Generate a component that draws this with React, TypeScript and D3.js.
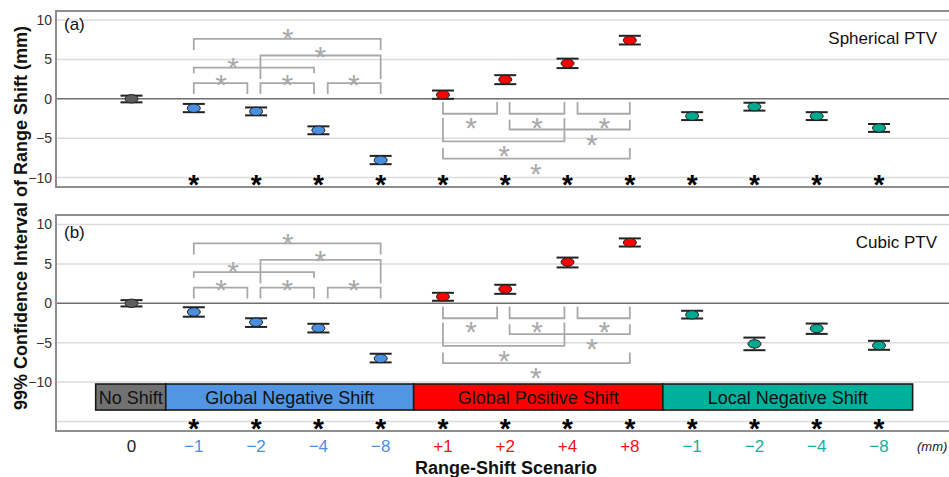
import React from "react";
import * as d3 from "d3";

const categories = ["0", "−1", "−2", "−4", "−8", "+1", "+2", "+4", "+8", "−1", "−2", "−4", "−8"];
const categoryGroup = [0, 1, 1, 1, 1, 2, 2, 2, 2, 3, 3, 3, 3];

const sphericalMean = [0.0, -1.2, -1.6, -4.0, -7.8, 0.5, 2.45, 4.5, 7.43, -2.2, -1.0, -2.2, -3.7];
const sphericalLow = [-0.45, -1.7, -2.1, -4.5, -8.3, 0.0, 1.86, 3.9, 6.9, -2.7, -1.5, -2.7, -4.2];
const sphericalHigh = [0.4, -0.65, -1.1, -3.5, -7.25, 1.05, 3.0, 5.1, 8.0, -1.7, -0.5, -1.7, -3.2];

const cubicMean = [0.0, -1.1, -2.4, -3.15, -7.0, 0.83, 1.8, 5.23, 7.7, -1.46, -5.15, -3.2, -5.36];
const cubicLow = [-0.4, -1.7, -3.0, -3.7, -7.5, 0.32, 1.2, 4.55, 7.2, -1.93, -5.95, -3.88, -5.9];
const cubicHigh = [0.4, -0.5, -1.9, -2.6, -6.4, 1.33, 2.35, 5.8, 8.23, -0.95, -4.35, -2.57, -4.76];

const groupNames = ["No Shift", "Global Negative Shift", "Global Positive Shift", "Local Negative Shift"];
const groupStart = [-0.575, 0.55, 4.53, 8.53];
const groupEnd = [0.55, 4.53, 8.53, 12.54];
const groupFill = ["#717171", "#5195e3", "#ff0000", "#00b09b"];
const markerFill = ["#5e5e5e", "#4a8fe0", "#ff0000", "#00a88f"];
const tickColor = ["#222222", "#4a8fe0", "#f21212", "#16b09b"];

// pairwise comparison brackets (category-index units, value units)
const upFrom = [1, 2.07, 3.15, 1, 2.07, 1];
const upTo = [1.86, 2.93, 4, 2.93, 4, 4];
const upBar = [2.0, 2.0, 2.0, 3.95, 5.5, 7.6];
const upLeg = [0.6, 0.6, 0.6, 3.25, 2.5, 6.2];
const upStarX = [1.44, 2.5, 3.57, 1.63, 3.03, 2.51];
const upStarY = [2.68, 2.68, 2.68, 4.9, 6.3, 8.5];

const downFrom = [5, 6.07, 7.16, 6.07, 5, 5];
const downTo = [5.87, 6.95, 8, 8, 6.95, 8];
const downBar = [-1.9, -1.9, -1.9, -3.9, -5.4, -7.6];
const downLeg = [-0.42, -0.42, -0.42, -2.65, -2.45, -6.25];
const downStarX = [5.45, 6.51, 7.59, 7.39, 5.98, 6.49];
const downStarY = [-2.75, -2.75, -2.75, -4.9, -6.35, -8.55];

const yTicks = [10, 5, 0, -5, -10];
const gridA = [10, 5, -5, -10];
const gridB = [10, 5, -5, -10, -15];

const W = 949;
const H = 477;
const FONT = "Liberation Sans, Arial, Helvetica, sans-serif";

const x = d3.scaleLinear().domain([0, 12]).range([131.5, 879]);
const yA = d3.scaleLinear().domain([-11.2, 11.15]).range([187, 11]);
const yB = d3.scaleLinear().domain([-16.2, 11.2]).range([431, 215]);

const fmt = (v: number) => (v < 0 ? "−" + Math.abs(v) : String(v));

function Star({ cx, cy, fill, bold, fs }: { cx: number; cy: number; fill: string; bold?: boolean; fs: number }) {
  return (
    <text x={cx} y={cy + fs * 0.58} textAnchor="middle" fontSize={fs} fontWeight={bold ? "bold" : "normal"} fill={fill} fontFamily={FONT}>
      *
    </text>
  );
}

function Panel({
  y,
  mean,
  low,
  high,
  grid,
  starValue,
  label,
  title,
  labelY,
  titleY,
}: {
  y: d3.ScaleLinear<number, number>;
  mean: number[];
  low: number[];
  high: number[];
  grid: number[];
  starValue: number;
  label: string;
  title: string;
  labelY: number;
  titleY: number;
}) {
  const [r0, r1] = y.range();
  const left = 56;
  const right = 960;
  const bracketColor = "#a9a9a9";
  return (
    <g>
      {grid.map((g) => (
        <line key={"g" + g} x1={left} x2={right} y1={y(g)} y2={y(g)} stroke="#dcdcdc" strokeWidth={1.5} />
      ))}
      <line x1={left} x2={right} y1={y(0)} y2={y(0)} stroke="#6f6f6f" strokeWidth={1.6} />
      <rect x={left} y={r1} width={right - left} height={r0 - r1} fill="none" stroke="#8e8e8e" strokeWidth={2} />
      {yTicks.map((t) => (
        <text key={"t" + t} x={52} y={y(t) + 5} textAnchor="end" fontSize={14} fill="#333" fontFamily={FONT}>
          {fmt(t)}
        </text>
      ))}
      <text x={64} y={labelY} fontSize={17} fill="#111" fontFamily={FONT}>
        {label}
      </text>
      <text x={937} y={titleY} textAnchor="end" fontSize={17} fill="#111" fontFamily={FONT}>
        {title}
      </text>
      {upFrom.map((f, i) => (
        <g key={"u" + i}>
          <path
            d={`M${x(f)},${y(upLeg[i])}V${y(upBar[i])}H${x(upTo[i])}V${y(upLeg[i])}`}
            fill="none"
            stroke={bracketColor}
            strokeWidth={1.8}
          />
          <Star cx={x(upStarX[i])} cy={y(upStarY[i])} fill={bracketColor} fs={30} />
        </g>
      ))}
      {downFrom.map((f, i) => (
        <g key={"d" + i}>
          <path
            d={`M${x(f)},${y(downLeg[i])}V${y(downBar[i])}H${x(downTo[i])}V${y(downLeg[i])}`}
            fill="none"
            stroke={bracketColor}
            strokeWidth={1.8}
          />
          <Star cx={x(downStarX[i])} cy={y(downStarY[i])} fill={bracketColor} fs={30} />
        </g>
      ))}
      {mean.map((m, i) => {
        const cx = x(i);
        return (
          <g key={"e" + i}>
            <line x1={cx} x2={cx} y1={y(low[i])} y2={y(high[i])} stroke="#222" strokeWidth={1.2} />
            <line x1={cx - 11} x2={cx + 11} y1={y(low[i])} y2={y(low[i])} stroke="#222" strokeWidth={2} />
            <line x1={cx - 11} x2={cx + 11} y1={y(high[i])} y2={y(high[i])} stroke="#222" strokeWidth={2} />
            <ellipse cx={cx} cy={y(m)} rx={6.5} ry={4.2} fill={markerFill[categoryGroup[i]]} stroke="#222" strokeWidth={1} />
          </g>
        );
      })}
      {categories.map((c, i) =>
        i === 0 ? null : <Star key={"s" + i} cx={x(i)} cy={y(starValue)} fill="#000" bold fs={28} />
      )}
    </g>
  );
}

export default function App() {
  return (
    <svg width={W} height={H} style={{ position: "absolute", left: 0, top: 0, background: "#fff" }} fontFamily={FONT}>
      <rect x={0} y={0} width={W} height={H} fill="#fff" />
      <Panel
        y={yA}
        mean={sphericalMean}
        low={sphericalLow}
        high={sphericalHigh}
        grid={gridA}
        starValue={-10}
        label="(a)"
        title="Spherical PTV"
        labelY={30}
        titleY={44}
      />
      <Panel
        y={yB}
        mean={cubicMean}
        low={cubicLow}
        high={cubicHigh}
        grid={gridB}
        starValue={-15}
        label="(b)"
        title="Cubic PTV"
        labelY={238}
        titleY={248}
      />
      {groupNames.map((g, i) => {
        const x0 = x(groupStart[i]);
        const x1 = x(groupEnd[i]);
        const yt = yB(-10.24);
        const yb = yB(-13.54);
        return (
          <g key={"band" + i}>
            <rect x={x0} y={yt} width={x1 - x0} height={yb - yt} fill={groupFill[i]} stroke="#1a1a1a" strokeWidth={1.6} />
            <text x={(x0 + x1) / 2} y={(yt + yb) / 2 + 6.5} textAnchor="middle" fontSize={18} fill="#111" fontFamily={FONT}>
              {g}
            </text>
          </g>
        );
      })}
      {categories.map((c, i) => (
        <text key={"xt" + i} x={x(i)} y={452} textAnchor="middle" fontSize={17} fill={tickColor[categoryGroup[i]]} fontFamily={FONT}>
          {c}
        </text>
      ))}
      <text x={917} y={451} fontSize={13} fontStyle="italic" fill="#222" fontFamily={FONT}>
        (mm)
      </text>
      <text x={506} y={474} textAnchor="middle" fontSize={18} fontWeight="bold" fill="#111" fontFamily={FONT}>
        Range-Shift Scenario
      </text>
      <text
        transform="translate(27,218) rotate(-90)"
        textAnchor="middle"
        fontSize={18}
        fontWeight="bold"
        fill="#111"
        fontFamily={FONT}
      >
        99% Confidence Interval of Range Shift (mm)
      </text>
    </svg>
  );
}
